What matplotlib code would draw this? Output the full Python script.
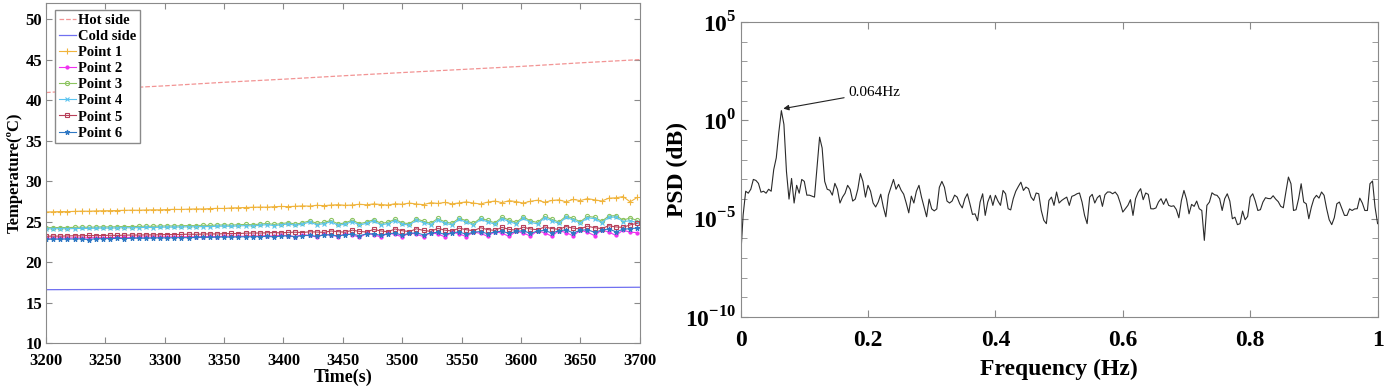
import matplotlib
matplotlib.use("Agg")
import matplotlib.pyplot as plt
import numpy as np

plt.rcParams["font.family"] = ["Liberation Serif", "DejaVu Serif"]
plt.rcParams["font.weight"] = "bold"
plt.rcParams["axes.labelweight"] = "bold"
plt.rcParams["mathtext.fontset"] = "custom"
plt.rcParams["mathtext.rm"] = "Liberation Serif:bold"
plt.rcParams["mathtext.bf"] = "Liberation Serif:bold"

# ---- left panel: temperatures ----
time_pts = np.arange(3200, 3700, 6)          # sample times of the measuring points
time_sides = [3200, 3250, 3300, 3350, 3400, 3450, 3500, 3550, 3600, 3650, 3700]

hot_side = [40.95, 41.40, 41.78, 42.22, 42.60, 43.02, 43.42, 43.80, 44.18, 44.62, 45.02]
cold_side = [16.60, 16.62, 16.63, 16.65, 16.67, 16.70, 16.74, 16.77, 16.80, 16.86, 16.90]

point1 = [
    26.20, 26.22, 26.25, 26.24, 26.27, 26.30, 26.29, 26.33, 26.35, 26.36,
    26.38, 26.40, 26.42, 26.41, 26.45, 26.47, 26.46, 26.50, 26.52, 26.51,
    26.55, 26.58, 26.57, 26.62, 26.64, 26.63, 26.70, 26.72, 26.75, 26.78,
    26.80, 26.79, 26.85, 26.88, 26.86, 26.90, 26.95, 26.92, 27.02, 26.98,
    27.05, 27.10, 27.02, 27.06, 27.15, 27.08, 27.20, 27.12, 27.05, 27.22,
    27.15, 27.30, 27.18, 27.10, 27.35, 27.25, 27.38, 27.20, 27.32, 27.45,
    27.30, 27.18, 27.42, 27.55, 27.35, 27.60, 27.48, 27.30, 27.52, 27.65,
    27.40, 27.62, 27.70, 27.45, 27.75, 27.60, 27.85, 27.70, 27.55, 27.90,
    27.95, 28.10, 27.45, 28.00]
point2 = [
    22.95, 22.96, 22.98, 22.97, 23.00, 22.99, 23.01, 23.03, 23.02, 23.04,
    23.05, 23.06, 23.05, 23.08, 23.09, 23.08, 23.10, 23.12, 23.11, 23.13,
    23.14, 23.13, 23.16, 23.17, 23.16, 23.19, 23.20, 23.18, 23.22, 23.24,
    23.22, 23.28, 23.20, 23.35, 23.25, 23.15, 23.40, 23.30, 23.10, 23.45,
    23.35, 23.15, 23.50, 23.38, 23.05, 23.55, 23.40, 23.10, 23.60, 23.42,
    23.12, 23.62, 23.45, 23.15, 23.65, 23.48, 23.12, 23.70, 23.50, 23.15,
    23.72, 23.55, 23.20, 23.78, 23.58, 23.18, 23.82, 23.60, 23.22, 23.88,
    23.62, 23.20, 23.90, 23.65, 23.25, 23.95, 23.70, 23.28, 23.98, 23.72,
    23.30, 23.95, 23.70, 23.65]
point3 = [
    24.25, 24.27, 24.28, 24.27, 24.30, 24.32, 24.31, 24.34, 24.36, 24.35,
    24.38, 24.40, 24.39, 24.42, 24.44, 24.43, 24.46, 24.48, 24.47, 24.50,
    24.52, 24.51, 24.55, 24.54, 24.58, 24.60, 24.57, 24.63, 24.66, 24.62,
    24.70, 24.78, 24.66, 24.75, 24.88, 24.70, 24.85, 25.10, 24.80, 24.90,
    25.15, 24.72, 24.85, 25.20, 24.75, 24.95, 25.25, 24.80, 24.92, 25.30,
    24.85, 24.75, 25.35, 25.05, 24.80, 25.40, 24.95, 24.80, 25.45, 25.10,
    24.78, 25.45, 25.15, 24.85, 25.55, 25.20, 24.90, 25.60, 25.10, 24.90,
    25.65, 25.30, 24.95, 25.70, 25.40, 25.00, 25.65, 25.55, 25.05, 25.70,
    25.75, 25.20, 25.45, 25.15]
point4 = [
    24.10, 24.12, 24.13, 24.12, 24.15, 24.17, 24.16, 24.19, 24.21, 24.20,
    24.23, 24.25, 24.24, 24.27, 24.29, 24.28, 24.31, 24.33, 24.32, 24.35,
    24.37, 24.36, 24.40, 24.39, 24.43, 24.45, 24.42, 24.48, 24.51, 24.47,
    24.55, 24.63, 24.52, 24.60, 24.72, 24.55, 24.70, 24.95, 24.62, 24.75,
    24.98, 24.55, 24.70, 25.02, 24.58, 24.80, 25.08, 24.62, 24.75, 25.12,
    24.70, 24.58, 25.18, 24.88, 24.62, 25.22, 24.78, 24.62, 25.28, 24.92,
    24.60, 25.28, 24.98, 24.68, 25.38, 25.02, 24.72, 25.42, 24.92, 24.72,
    25.48, 25.12, 24.78, 25.52, 25.22, 24.82, 25.48, 25.38, 24.88, 25.52,
    25.58, 25.02, 25.10, 24.90]
point5 = [
    23.20, 23.22, 23.21, 23.24, 23.26, 23.25, 23.30, 23.27, 23.29, 23.32,
    23.30, 23.33, 23.35, 23.34, 23.37, 23.36, 23.39, 23.41, 23.40, 23.43,
    23.45, 23.44, 23.47, 23.49, 23.48, 23.52, 23.54, 23.53, 23.58, 23.60,
    23.59, 23.63, 23.65, 23.62, 23.68, 23.70, 23.66, 23.75, 23.72, 23.68,
    23.85, 23.76, 23.70, 23.95, 23.80, 23.72, 24.05, 23.85, 23.75, 24.10,
    23.88, 23.78, 24.12, 23.92, 23.80, 24.18, 23.95, 23.85, 24.20, 24.00,
    23.88, 24.25, 24.02, 23.92, 24.30, 24.05, 23.95, 24.32, 24.10, 24.00,
    24.35, 24.15, 24.05, 24.40, 24.20, 24.10, 24.45, 24.25, 24.15, 24.50,
    24.35, 24.30, 24.60, 24.80]
point6 = [
    22.82, 22.84, 22.83, 22.86, 22.85, 22.88, 22.78, 22.90, 22.89, 22.92,
    22.93, 22.92, 22.95, 22.96, 22.95, 22.98, 23.00, 22.99, 23.02, 23.03,
    23.02, 23.05, 23.07, 23.06, 23.09, 23.10, 23.09, 23.12, 23.14, 23.13,
    23.16, 23.18, 23.12, 23.22, 23.25, 23.15, 23.28, 23.30, 23.18, 23.35,
    23.38, 23.22, 23.40, 23.45, 23.28, 23.48, 23.50, 23.30, 23.52, 23.58,
    23.35, 23.55, 23.62, 23.38, 23.60, 23.68, 23.42, 23.65, 23.72, 23.45,
    23.70, 23.78, 23.50, 23.75, 23.82, 23.55, 23.80, 23.88, 23.55, 23.85,
    23.92, 23.60, 23.88, 23.98, 23.62, 23.92, 24.02, 23.68, 23.95, 24.10,
    23.75, 24.05, 24.15, 24.20]

# ---- right panel: PSD (log10 of value), 0..1 Hz ----
psd_log10 = [
    -7.0, -4.8, -3.6, -3.7, -3.5, -3.0, -3.05, -3.2, -3.65, -3.6,
    -3.7, -3.5, -3.6, -2.5, -1.9, -0.6, 0.5, -0.2, -2.6, -4.0,
    -2.95, -4.2, -3.3, -3.7, -3.0, -3.1, -3.8, -3.8, -3.85, -3.9,
    -2.4, -0.85, -1.4, -3.1, -3.5, -3.55, -3.8, -3.2, -3.5, -4.2,
    -3.9, -3.7, -3.3, -3.5, -4.1, -4.0, -3.5, -2.7, -3.1, -3.9,
    -3.3, -3.6, -4.2, -4.4, -4.15, -3.75, -4.4, -4.9, -3.8, -3.4,
    -3.0, -3.5, -3.25, -3.55, -3.75, -4.2, -4.7, -3.85, -4.2, -3.6,
    -3.3, -3.9, -4.4, -4.9, -4.0, -4.5, -4.6, -4.5, -3.4, -3.1,
    -3.4, -4.1, -4.2, -4.1, -3.8, -3.9, -4.24, -4.45, -3.98, -3.73,
    -4.24, -4.78, -4.75, -5.1, -4.15, -3.73, -4.83, -4.15, -3.81, -4.32,
    -3.81, -4.1, -4.32, -3.56, -3.73, -4.49, -4.55, -3.98, -3.6, -3.36,
    -3.14, -3.56, -3.39, -3.47, -3.9, -4.07, -3.69, -3.73, -4.58, -5.08,
    -5.25, -4.07, -3.9, -4.32, -3.64, -4.2, -4.07, -3.98, -3.9, -4.32,
    -3.86, -3.81, -3.73, -3.69, -4.15, -4.83, -5.25, -3.9, -3.76, -4.2,
    -3.93, -3.81, -4.37, -3.78, -3.64, -3.64, -3.73, -3.64, -3.81, -4.2,
    -4.66, -4.49, -4.32, -4.03, -4.83, -3.98, -3.66, -3.47, -4.03, -3.69,
    -3.76, -4.49, -4.5, -4.45, -4.15, -3.98, -4.27, -3.98, -4.32, -4.37,
    -4.34, -4.53, -4.95, -4.07, -3.56, -4.0, -4.75, -4.27, -4.37, -4.1,
    -4.49, -4.58, -6.1, -4.32, -4.15, -3.68, -3.78, -3.81, -3.98, -4.58,
    -3.98, -3.73, -4.1, -5.0, -4.92, -5.3, -5.25, -4.61, -5.05, -4.88,
    -3.9, -3.73, -4.1, -4.58, -4.54, -4.15, -3.93, -3.97, -3.98, -3.83,
    -4.0, -4.13, -4.37, -4.44, -3.64, -2.88, -3.22, -4.58, -4.54, -3.98,
    -3.22, -4.15, -4.24, -5.0, -4.41, -3.98, -3.81, -3.95, -3.64, -3.81,
    -4.49, -5.05, -5.3, -4.95, -4.24, -4.15, -4.49, -4.83, -4.83, -4.5,
    -4.58, -4.5, -4.49, -3.95, -4.2, -4.58, -4.58, -3.22, -3.08, -4.41,
    -5.25]
freq = np.linspace(0, 1, len(psd_log10))
peak_freq = 0.064

fig = plt.figure(figsize=(14, 3.89), dpi=100)
spine_gray = "#8a8a8a"

# left axes
ax1 = fig.add_axes([0.0329, 0.118, 0.424, 0.874])
ax1.plot(time_sides, hot_side, "--", color="#f29494", lw=0.9, label="Hot side")
ax1.plot(time_sides, cold_side, "-", color="#7070f0", lw=0.9, label="Cold side")
series = [
    (point1, "Point 1", "#f0b43c", "+", 4.5),
    (point2, "Point 2", "#f030f0", ".", 4.5),
    (point3, "Point 3", "#8cc460", "o", 3),
    (point4, "Point 4", "#5ac4f0", "x", 3),
    (point5, "Point 5", "#b8405a", "s", 2.5),
    (point6, "Point 6", "#2f78c4", "*", 3.5),
]
for vals, name, col, mk, ms in series:
    ax1.plot(time_pts, vals, color=col, marker=mk, ms=ms, lw=0.8,
             mfc="none" if mk in "os" else col, mew=0.8, label=name)

ax1.set_xlim(3200, 3700)
ax1.set_ylim(10, 52)
ax1.set_xticks(range(3200, 3701, 50))
ax1.set_yticks(range(10, 51, 5))
ax1.tick_params(direction="in", top=True, right=True, length=4, color=spine_gray,
                labelsize=12)
ax1.tick_params(axis="x", pad=7)
ax1.tick_params(axis="y", pad=3)
for sp in ax1.spines.values():
    sp.set_color(spine_gray)
ax1.set_xlabel("Time(s)", fontsize=13, fontweight="bold", labelpad=0)
ax1.set_ylabel("Temperature(ºC)", fontsize=12, fontweight="bold", labelpad=2)
leg = ax1.legend(loc="upper left", bbox_to_anchor=(0.015, 0.98), fancybox=False,
                 edgecolor=spine_gray, framealpha=1, borderaxespad=0,
                 prop={"weight": "bold", "size": 10.5}, handlelength=1.2,
                 handletextpad=0.15, labelspacing=0.2, borderpad=0.25)

# right axes
ax2 = fig.add_axes([0.529, 0.185, 0.455, 0.758])
ax2.semilogy(freq, 10.0 ** np.array(psd_log10), color="#2a2a2a", lw=0.8)
ax2.set_xlim(0, 1)
ax2.set_ylim(1e-10, 1e5)
ax2.set_xticks([0, 0.2, 0.4, 0.6, 0.8, 1])
ax2.set_xticklabels(["0", "0.2", "0.4", "0.6", "0.8", "1"])
ax2.set_yticks([1e-10, 1e-5, 1e0, 1e5])
ax2.set_yticklabels([r"$10^{-10}$", r"$10^{-5}$", r"$10^{0}$", r"$10^{5}$"])
ax2.set_yticks([10.0 ** e for e in range(-10, 6) if e % 5], minor=True)
ax2.yaxis.set_minor_formatter(matplotlib.ticker.NullFormatter())
ax2.tick_params(which="both", direction="in", top=True, right=True, color=spine_gray,
                labelsize=17)
ax2.tick_params(which="major", length=5)
ax2.tick_params(which="minor", length=4)
ax2.tick_params(axis="x", pad=9)
ax2.tick_params(axis="y", pad=3)
for sp in ax2.spines.values():
    sp.set_color(spine_gray)
ax2.set_xlabel("Frequency (Hz)", fontsize=17, fontweight="bold", labelpad=6)
ax2.set_ylabel("PSD (dB)", fontsize=17, fontweight="bold")
ax2.yaxis.set_label_coords(-0.082, 0.5)
ax2.annotate(f"{peak_freq}Hz", xy=(0.067, 4.0), xytext=(0.169, 27),
             fontsize=11, fontweight="normal", va="center", ha="left",
             arrowprops=dict(arrowstyle="-|>", color="#222222", lw=0.8,
                             mutation_scale=8, shrinkA=1, shrinkB=0))

fig.savefig("out.png", dpi=100)
